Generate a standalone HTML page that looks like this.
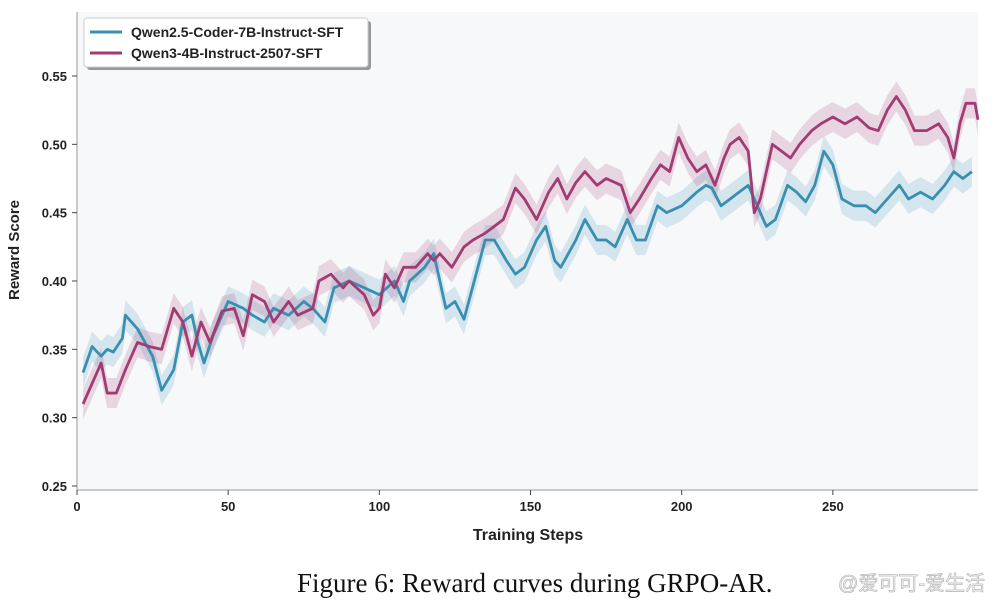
<!DOCTYPE html>
<html><head><meta charset="utf-8"><style>
body{margin:0;background:#fff;width:994px;height:608px;overflow:hidden;font-family:"Liberation Sans",sans-serif}
</style></head><body>
<svg id="chart" width="994" height="608" xmlns="http://www.w3.org/2000/svg">
<rect x="77" y="12" width="901" height="478" fill="#f7f8fa"/>
<g id="bands"></g><g id="lines"></g>
<line x1="77" y1="12" x2="77" y2="490" stroke="#999" stroke-width="1"/>
<line x1="77" y1="490" x2="978" y2="490" stroke="#999" stroke-width="1"/>
<g id="ticks" font-size="13" font-weight="bold" fill="#222"></g>
<text x="528" y="540" text-anchor="middle" font-size="16" font-weight="bold" fill="#222">Training Steps</text>
<text transform="translate(19,250) rotate(-90)" text-anchor="middle" font-size="15" font-weight="bold" fill="#222">Reward Score</text>
<g>
<rect x="87" y="21" width="284" height="49" rx="3" fill="#999"/>
<rect x="84" y="18" width="284" height="49" rx="3" fill="#fff" stroke="#ccc"/>
<line x1="90" y1="32" x2="122" y2="32" stroke="#3a8fb0" stroke-width="3"/>
<text x="131" y="37" font-size="14" font-weight="bold" fill="#222">Qwen2.5-Coder-7B-Instruct-SFT</text>
<line x1="90" y1="53" x2="122" y2="53" stroke="#a23b72" stroke-width="3"/>
<text x="131" y="58" font-size="14" font-weight="bold" fill="#222">Qwen3-4B-Instruct-2507-SFT</text>
</g>
<text x="297" y="592" font-family="Liberation Serif, serif" font-size="27" fill="#111">Figure 6: Reward curves during GRPO-AR.</text>
<text x="985" y="590" text-anchor="end" font-family="Liberation Sans, Noto Sans CJK SC, sans-serif" font-size="20" fill="#fff" stroke="#bbb" stroke-width="0.8">@爱可可-爱生活</text>
</svg>
<script>
const xTicks=[0,50,100,150,200,250];
const yTicks=[0.25,0.30,0.35,0.40,0.45,0.50,0.55];
const stepsA=[2,5,8,10,12,15,16,20,25,28,32,35,38,40,42,45,50,55,58,62,65,70,75,78,82,85,90,95,100,105,108,110,115,118,122,125,128,132,135,138,142,145,148,152,155,158,160,165,168,172,175,178,182,185,188,192,195,200,205,208,210,213,216,219,222,225,228,231,235,238,241,244,247,250,253,257,261,264,268,272,275,279,283,287,290,293,296];
const valsA=[0.333,0.352,0.345,0.35,0.348,0.358,0.375,0.365,0.345,0.32,0.335,0.37,0.375,0.355,0.34,0.36,0.385,0.38,0.375,0.37,0.38,0.375,0.385,0.38,0.37,0.395,0.40,0.395,0.39,0.40,0.385,0.40,0.41,0.42,0.38,0.385,0.372,0.405,0.43,0.43,0.415,0.405,0.41,0.43,0.44,0.415,0.41,0.43,0.445,0.43,0.43,0.425,0.445,0.43,0.43,0.455,0.45,0.455,0.465,0.47,0.468,0.455,0.46,0.465,0.47,0.455,0.44,0.445,0.47,0.465,0.458,0.47,0.495,0.485,0.46,0.455,0.455,0.45,0.46,0.47,0.46,0.465,0.46,0.47,0.48,0.475,0.48];
const stepsB=[2,5,8,10,13,16,20,24,28,32,35,38,41,44,48,52,55,58,62,65,70,73,78,80,84,88,90,95,98,100,102,105,108,112,116,118,120,124,128,131,135,138,141,145,148,152,156,159,162,165,168,172,175,180,183,186,190,193,196,199,202,205,208,211,214,216,219,222,224,226,230,233,236,239,243,246,250,254,258,262,265,268,271,274,277,281,285,288,290,292,294,297,298];
const valsB=[0.31,0.325,0.34,0.318,0.318,0.335,0.355,0.352,0.35,0.38,0.37,0.345,0.37,0.355,0.378,0.38,0.36,0.39,0.385,0.37,0.385,0.375,0.38,0.40,0.405,0.395,0.40,0.39,0.375,0.38,0.405,0.395,0.41,0.41,0.42,0.415,0.42,0.41,0.425,0.43,0.435,0.44,0.445,0.468,0.46,0.445,0.465,0.475,0.46,0.472,0.48,0.47,0.475,0.47,0.45,0.46,0.475,0.485,0.48,0.505,0.49,0.48,0.485,0.47,0.49,0.50,0.505,0.495,0.45,0.46,0.50,0.495,0.49,0.50,0.51,0.515,0.52,0.515,0.52,0.512,0.51,0.525,0.535,0.525,0.51,0.51,0.515,0.505,0.49,0.515,0.53,0.53,0.518];
const bandHalf=0.011;
const NS='http://www.w3.org/2000/svg';
const X=s=>77+s*(901/298);
const Y=v=>486-(v-0.25)*1366.7;
const tg=document.getElementById('ticks');
xTicks.forEach(t=>{const l=document.createElementNS(NS,'line');


l.setAttribute('x1',X(t));l.setAttribute('x2',X(t));l.setAttribute('y1',490);l.setAttribute('y2',495);l.setAttribute('stroke','#444');tg.appendChild(l);
const tx=document.createElementNS(NS,'text');


tx.setAttribute('x',X(t));tx.setAttribute('y',511);tx.setAttribute('text-anchor','middle');tx.textContent=t;tg.appendChild(tx);});
yTicks.forEach(t=>{const l=document.createElementNS(NS,'line');


l.setAttribute('x1',72);l.setAttribute('x2',77);l.setAttribute('y1',Y(t));l.setAttribute('y2',Y(t));l.setAttribute('stroke','#444');tg.appendChild(l);
const tx=document.createElementNS(NS,'text');


tx.setAttribute('x',67);tx.setAttribute('y',Y(t)+5);tx.setAttribute('text-anchor','end');tx.textContent=t.toFixed(2);tg.appendChild(tx);});
function draw(steps,vals,color,name){
 const up=steps.map((s,i)=>X(s)+','+Y(vals[i]+bandHalf));
 const dn=steps.map((s,i)=>X(s)+','+Y(vals[i]-bandHalf)).reverse();
 const b=document.createElementNS(NS,'polygon');
 
 
 b.setAttribute('points',up.concat(dn).join(' '));b.setAttribute('fill',color);b.setAttribute('opacity','0.18');
 document.getElementById('bands').appendChild(b);
 const p=document.createElementNS(NS,'polyline');
 
 
 p.setAttribute('points',steps.map((s,i)=>X(s)+','+Y(vals[i])).join(' '));
 p.setAttribute('fill','none');p.setAttribute('stroke',color);p.setAttribute('stroke-width','2.8');p.setAttribute('stroke-linejoin','round');
 document.getElementById('lines').appendChild(p);
}
draw(stepsA,valsA,'#3a8fb0','qwen25');
draw(stepsB,valsB,'#a23b72','qwen3');
</script>
</body></html>
